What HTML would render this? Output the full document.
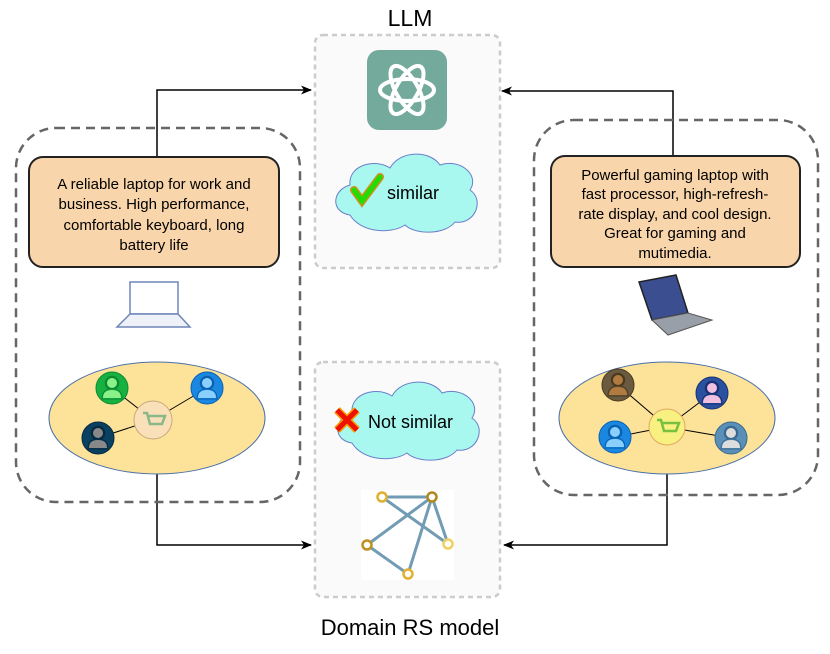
<!DOCTYPE html>
<html><head><meta charset="utf-8"><style>
body{margin:0;width:830px;height:649px;background:#fff;overflow:hidden}
svg text{font-family:"Liberation Sans",sans-serif}
</style></head><body>
<svg width="830" height="649" viewBox="0 0 830 649" xmlns="http://www.w3.org/2000/svg">
<defs>
<marker id="ar" markerWidth="11" markerHeight="9" refX="10" refY="4.5" orient="auto" markerUnits="userSpaceOnUse"><path d="M0,0 L11,4.5 L0,9 L3,4.5 Z" fill="#000"/></marker>
<g id="user"><circle r="16" /><circle cy="-5" r="6" fill="none" stroke-width="2.5"/><path d="M-10,11 Q-10,1 0,1 Q10,1 10,11 Z" /></g>
</defs>
<path d="M157,157 V90 H311" fill="none" stroke="#000" stroke-width="1.5" marker-end="url(#ar)"/>
<path d="M157,474 V545 H311" fill="none" stroke="#000" stroke-width="1.5" marker-end="url(#ar)"/>
<path d="M673,156 V91 H502" fill="none" stroke="#000" stroke-width="1.5" marker-end="url(#ar)"/>
<path d="M667,474 V545 H504" fill="none" stroke="#000" stroke-width="1.5" marker-end="url(#ar)"/>
<rect x="16" y="128" width="284" height="374" rx="40" fill="none" stroke="#666" stroke-width="2.5" stroke-dasharray="9,6"/>
<rect x="534" y="120" width="284" height="375" rx="40" fill="none" stroke="#666" stroke-width="2.5" stroke-dasharray="9,6"/>
<rect x="315" y="35" width="185" height="233" rx="8" fill="#fafafa" stroke="#ccc" stroke-width="2.5" stroke-dasharray="5,4"/>
<rect x="315" y="362" width="185" height="235" rx="8" fill="#fafafa" stroke="#ccc" stroke-width="2.5" stroke-dasharray="5,4"/>
<text x="410" y="26" font-size="23" text-anchor="middle">LLM</text>
<text x="410" y="635" font-size="22" text-anchor="middle">Domain RS model</text>
<rect x="367" y="50" width="80" height="80" rx="12" fill="#74aa9c"/>
<g transform="translate(407,90)" fill="none" stroke="#fff" stroke-width="4">
<ellipse rx="27" ry="11"/><ellipse rx="27" ry="11" transform="rotate(60)"/><ellipse rx="27" ry="11" transform="rotate(120)"/>
</g>
<g fill="#a8f8f0" stroke="#6a7fc8" stroke-width="1">
<path d="M350,215 C330,212 332,190 350,185 C348,165 375,158 390,168 C400,150 430,150 440,165 C460,158 480,175 470,190 C485,200 475,225 455,222 C445,235 415,235 405,225 C390,235 360,232 350,215 Z"/>
<path d="M352,443 C332,440 334,418 352,413 C350,393 377,386 392,396 C402,378 432,378 442,393 C462,386 482,403 472,418 C487,428 477,453 457,450 C447,463 417,463 407,453 C392,463 362,460 352,443 Z"/>
</g>
<path d="M354,190 L362,201 L380,177" fill="none" stroke="#d09020" stroke-width="8" stroke-linecap="round"/>
<path d="M354,190 L362,201 L380,177" fill="none" stroke="#22dd00" stroke-width="5" stroke-linecap="round"/>
<text x="387" y="199" font-size="18">similar</text>
<path d="M337,410 L357,430 M357,410 L337,430" stroke="#f5a000" stroke-width="8"/>
<path d="M337,410 L357,430 M357,410 L337,430" stroke="#ee1100" stroke-width="5"/>
<text x="368" y="428" font-size="18">Not similar</text>
<rect x="361" y="490" width="93" height="90" fill="#fff"/>
<g stroke="#5a8aa8" stroke-width="3" opacity="0.85">
<line x1="382" y1="497" x2="432" y2="497"/><line x1="382" y1="497" x2="448" y2="544"/>
<line x1="432" y1="497" x2="367" y2="545"/><line x1="432" y1="497" x2="408" y2="574"/>
<line x1="432" y1="497" x2="448" y2="544"/><line x1="367" y1="545" x2="408" y2="574"/>
</g>
<g fill="#fff" stroke="#e0b030" stroke-width="2.5">
<circle cx="382" cy="497" r="4.5"/><circle cx="432" cy="497" r="4.5" stroke="#b08a20"/><circle cx="367" cy="545" r="4.5" stroke="#c09020"/><circle cx="448" cy="544" r="4.5" stroke="#f0d060"/><circle cx="408" cy="574" r="4.5"/>
</g>
<rect x="29" y="157" width="250" height="110" rx="14" fill="#f8d5ab" stroke="#222" stroke-width="2"/>
<g font-size="15" text-anchor="middle">
<text x="154" y="189">A reliable laptop for work and</text>
<text x="154" y="209">business. High performance,</text>
<text x="154" y="230">comfortable keyboard, long</text>
<text x="154" y="250">battery life</text>
</g>
<rect x="551" y="156" width="249" height="111" rx="14" fill="#f8d5ab" stroke="#222" stroke-width="2"/>
<g font-size="15" text-anchor="middle">
<text x="675" y="180">Powerful gaming laptop with</text>
<text x="675" y="199">fast processor, high-refresh-</text>
<text x="675" y="219">rate display, and cool design.</text>
<text x="675" y="238">Great for gaming and</text>
<text x="675" y="258">mutimedia.</text>
</g>
<rect x="130" y="282" width="48" height="32" fill="#fff" stroke="#6f86b8" stroke-width="1.5"/>
<path d="M130,314 L178,314 L190,327 L117,327 Z" fill="#eef1f8" stroke="#6f86b8" stroke-width="1.5"/>
<path d="M639,282 L676,275 L688,313 L652,320 Z" fill="#3a4e90" stroke="#222" stroke-width="1.5"/>
<path d="M652,320 L688,313 L712,320 L668,335 Z" fill="#999fa8" stroke="#555" stroke-width="1"/>
<ellipse cx="157" cy="418" rx="108" ry="56" fill="#fde39a" stroke="#4a6fa8" stroke-width="1"/>
<ellipse cx="667" cy="418" rx="108" ry="56" fill="#fde39a" stroke="#4a6fa8" stroke-width="1"/>
<g stroke="#000" stroke-width="1">
<line x1="112" y1="388" x2="153" y2="420"/><line x1="207" y1="388" x2="153" y2="420"/><line x1="98" y1="438" x2="153" y2="420"/>
<line x1="618" y1="385" x2="667" y2="427"/><line x1="712" y1="393" x2="667" y2="427"/><line x1="615" y1="437" x2="667" y2="427"/><line x1="731" y1="438" x2="667" y2="427"/>
</g>
<circle cx="153" cy="420" r="19" fill="#fae0b8" stroke="#c8a878"/>
<path d="M143,413 h4 l3,11 h12 l3,-8 h-17" fill="none" stroke="#8ab888" stroke-width="2.5"/>
<circle cx="667" cy="427" r="18" fill="#f8f080" stroke="#e0a860"/>
<path d="M657,420 h4 l3,11 h12 l3,-8 h-17" fill="none" stroke="#7ac040" stroke-width="2.5"/>
<use href="#user" x="112" y="388" fill="#18b040" stroke="#0a8a30"/>
<g fill="#8af088"><circle cx="112" cy="383" r="5"/><path d="M103,398 Q103,390 112,390 Q121,390 121,398 Z"/></g>
<use href="#user" x="207" y="388" fill="#1a88e0" stroke="#0a60b0"/>
<g fill="#8ad0ff"><circle cx="207" cy="383" r="5"/><path d="M198,398 Q198,390 207,390 Q216,390 216,398 Z"/></g>
<use href="#user" x="98" y="438" fill="#0a4060" stroke="#062840"/>
<g fill="#888"><circle cx="98" cy="433" r="5"/><path d="M89,448 Q89,440 98,440 Q107,440 107,448 Z"/></g>
<use href="#user" x="618" y="385" fill="#6a5a40" stroke="#4a3a20"/>
<g fill="#b07a40"><circle cx="618" cy="380" r="5"/><path d="M609,395 Q609,387 618,387 Q627,387 627,395 Z"/></g>
<use href="#user" x="712" y="393" fill="#2a50a0" stroke="#1a3070"/>
<g fill="#f0c0e0"><circle cx="712" cy="388" r="5"/><path d="M703,403 Q703,395 712,395 Q721,395 721,403 Z"/></g>
<use href="#user" x="615" y="437" fill="#1a88e0" stroke="#0a60b0"/>
<g fill="#8ad0ff"><circle cx="615" cy="432" r="5"/><path d="M606,447 Q606,439 615,439 Q624,439 624,447 Z"/></g>
<use href="#user" x="731" y="438" fill="#5a90b8" stroke="#3a6890"/>
<g fill="#ddd"><circle cx="731" cy="433" r="5"/><path d="M722,448 Q722,440 731,440 Q740,440 740,448 Z"/></g>
</svg>
</body></html>
